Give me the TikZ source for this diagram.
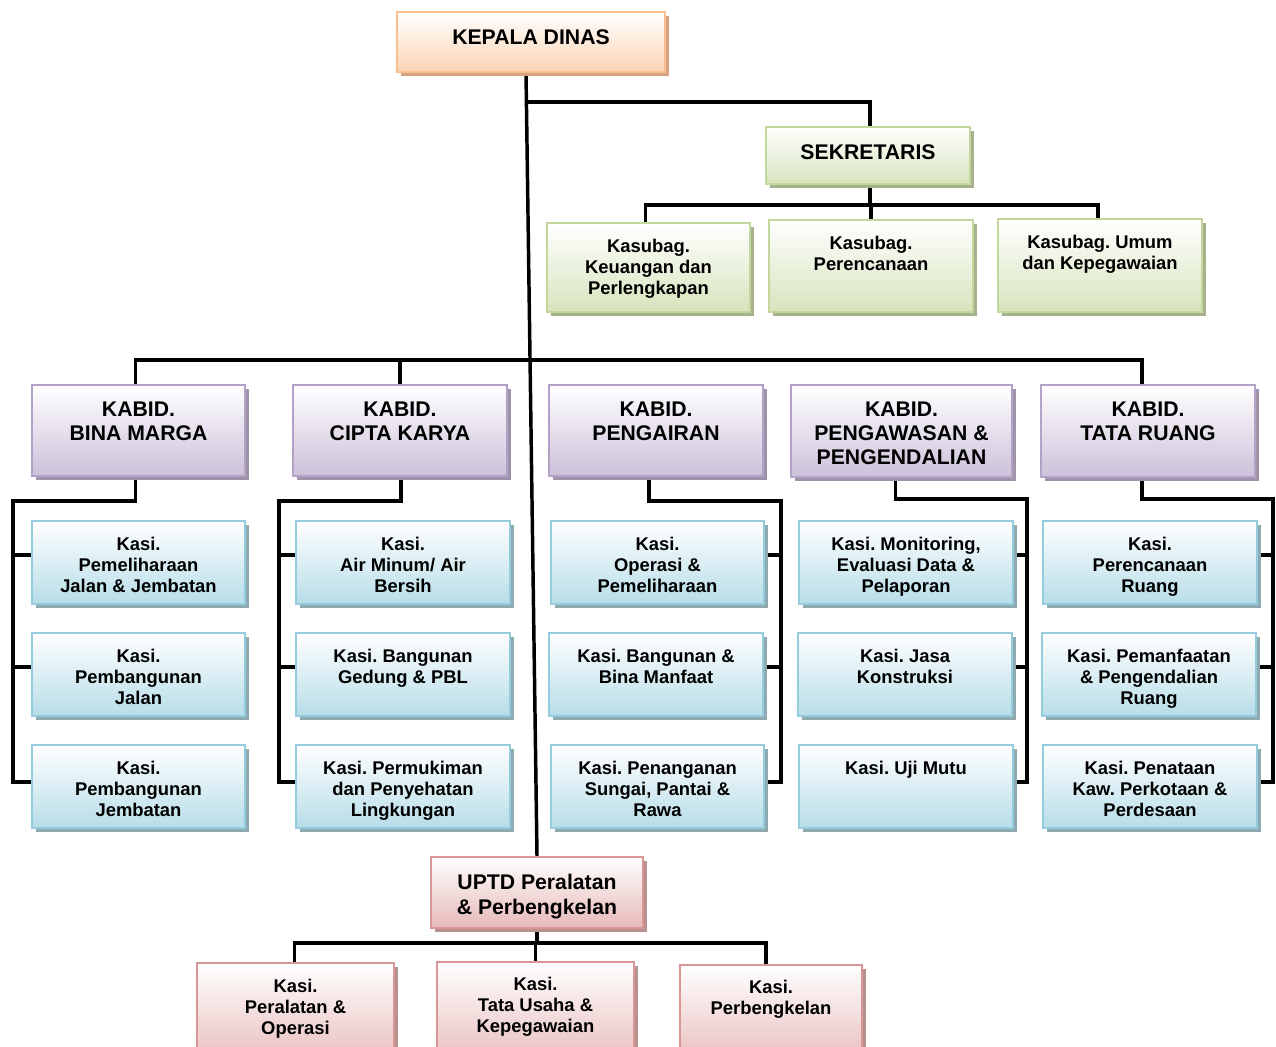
\documentclass[tikz,border=0pt]{standalone}
\usepackage{fontspec}
\setmainfont{Liberation Sans}
\frenchspacing
\usetikzlibrary{fit,calc,backgrounds}
\definecolor{peachborder}{HTML}{F9BF8F}
\definecolor{peachfill}{HTML}{FAD3B3}
\definecolor{peachshadow}{HTML}{D6A37E}
\definecolor{greenborder}{HTML}{C3D69B}
\definecolor{greenfill}{HTML}{D7E4BD}
\definecolor{greenshadow}{HTML}{A5B28C}
\definecolor{purpleborder}{HTML}{B3A2C7}
\definecolor{purplefill}{HTML}{CCC1DA}
\definecolor{purpleshadow}{HTML}{9E93A9}
\definecolor{blueborder}{HTML}{93CDDD}
\definecolor{bluefill}{HTML}{B7DDE8}
\definecolor{blueshadow}{HTML}{8FA9B1}
\definecolor{pinkborder}{HTML}{D99694}
\definecolor{pinkfill}{HTML}{E6B9B8}
\definecolor{pinkshadow}{HTML}{B69190}
\tikzset{
  conn/.style={line width=2.6pt, black, line cap=rect},
  bigtxt/.style={font=\fontsize{15.9}{18}\selectfont\bfseries, align=center, inner sep=0pt, anchor=north},
  uptdtxt/.style={font=\fontsize{15.9}{18.75}\selectfont\bfseries, align=center, inner sep=0pt, anchor=north},
  smalltxt/.style={font=\fontsize{13.8}{15.9}\selectfont\bfseries, align=center, inner sep=0pt, anchor=north},
}
% #1 name, #2 x1, #3 y1, #4 x2, #5 y2, #6 colour, #7 text style, #8 offset, #9 text
\newcommand\orgbox[9]{%
  \fill[#6shadow] (#2+4,#3+4) rectangle (#4+4,#5+4);
  \node[fit={(#2,#3)(#4,#5)}, inner sep=0pt, draw=#6border, line width=1.6pt,
        top color=white, bottom color=#6fill] (#1) {};
  \node[#7] (#1t) at ($(#1.north)+(0,#8)$) {#9};
}
\begin{document}
\begin{tikzpicture}[x=0.75pt,y=-0.75pt]
\useasboundingbox (0,0) rectangle (1276,1046);
\clip (0,0) rectangle (1276,1046);

% top
\orgbox{kd}{397}{12}{665}{72}{peach}{bigtxt}{18}{KEPALA DINAS}
\orgbox{sek}{766}{127}{970}{184}{green}{bigtxt}{18}{SEKRETARIS}
\orgbox{sb1}{547}{223}{750}{312}{green}{smalltxt}{17}{Kasubag.\\Keuangan dan\\Perlengkapan}
\orgbox{sb2}{769}{220}{973}{312}{green}{smalltxt}{17}{Kasubag.\\Perencanaan}
\orgbox{sb3}{998}{219}{1202}{312}{green}{smalltxt}{17}{Kasubag. Umum\\dan Kepegawaian}

% kabid
\orgbox{kb1}{32}{385}{245}{476}{purple}{bigtxt}{18}{KABID.\\BINA MARGA}
\orgbox{kb2}{293}{385}{507}{476}{purple}{bigtxt}{18}{KABID.\\CIPTA KARYA}
\orgbox{kb3}{549}{385}{763}{476}{purple}{bigtxt}{18}{KABID.\\PENGAIRAN}
\orgbox{kb4}{791}{385}{1012}{477}{purple}{bigtxt}{18}{KABID.\\PENGAWASAN \&\\PENGENDALIAN}
\orgbox{kb5}{1041}{385}{1255}{477}{purple}{bigtxt}{18}{KABID.\\TATA RUANG}

% kasi column 1
\orgbox{k11}{32}{521}{245}{604}{blue}{smalltxt}{17}{Kasi.\\Pemeliharaan\\Jalan \& Jembatan}
\orgbox{k12}{32}{633}{245}{716}{blue}{smalltxt}{17}{Kasi.\\Pembangunan\\Jalan}
\orgbox{k13}{32}{745}{245}{828}{blue}{smalltxt}{17}{Kasi.\\Pembangunan\\Jembatan}
% column 2
\orgbox{k21}{296}{521}{510}{604}{blue}{smalltxt}{17}{Kasi.\\Air Minum/ Air\\Bersih}
\orgbox{k22}{296}{633}{510}{716}{blue}{smalltxt}{17}{Kasi. Bangunan\\Gedung \& PBL}
\orgbox{k23}{296}{745}{510}{828}{blue}{smalltxt}{17}{Kasi. Permukiman\\dan Penyehatan\\Lingkungan}
% column 3
\orgbox{k31}{551}{521}{764}{604}{blue}{smalltxt}{17}{Kasi.\\Operasi \&\\Pemeliharaan}
\orgbox{k32}{549}{633}{763}{716}{blue}{smalltxt}{17}{Kasi. Bangunan \&\\Bina Manfaat}
\orgbox{k33}{551}{745}{764}{828}{blue}{smalltxt}{17}{Kasi. Penanganan\\Sungai, Pantai \&\\Rawa}
% column 4
\orgbox{k41}{799}{521}{1013}{604}{blue}{smalltxt}{17}{Kasi. Monitoring,\\Evaluasi Data \&\\Pelaporan}
\orgbox{k42}{798}{633}{1012}{716}{blue}{smalltxt}{17}{Kasi. Jasa\\Konstruksi}
\orgbox{k43}{799}{745}{1013}{828}{blue}{smalltxt}{17}{Kasi. Uji Mutu}
% column 5
\orgbox{k51}{1043}{521}{1257}{604}{blue}{smalltxt}{17}{Kasi.\\Perencanaan\\Ruang}
\orgbox{k52}{1042}{633}{1256}{716}{blue}{smalltxt}{17}{Kasi. Pemanfaatan\\\& Pengendalian\\Ruang}
\orgbox{k53}{1043}{745}{1257}{828}{blue}{smalltxt}{17}{Kasi. Penataan\\Kaw. Perkotaan \&\\Perdesaan}

% UPTD
\orgbox{uptd}{431}{857}{643}{928}{pink}{uptdtxt}{18}{UPTD Peralatan\\\& Perbengkelan}
\orgbox{b1}{197}{963}{394}{1070}{pink}{smalltxt}{17}{Kasi.\\Peralatan \&\\Operasi}
\orgbox{b2}{437}{962}{634}{1070}{pink}{smalltxt}{16}{Kasi.\\Tata Usaha \&\\Kepegawaian}
\orgbox{b3}{680}{965}{862}{1070}{pink}{smalltxt}{16}{Kasi.\\Perbengkelan}

% connector junctions
\coordinate (jsek) at (528,102);
\coordinate (sekx) at ($(sek.north)+(2,0)$);
\coordinate (bussek) at (870,205);
\coordinate (busk) at (530,360);
\coordinate (sp1) at (13,501);
\coordinate (sp2) at (279,501);
\coordinate (sp3) at (781,501);
\coordinate (sp4) at (1027,499);
\coordinate (sp5) at (1273,499);
\coordinate (ub) at (537,943);

\foreach \c/\s in {1/-1,2/-1,3/1,4/1,5/1}{
  \foreach \r/\d in {1/35,2/35,3/38}{
    \ifnum\s<0
      \coordinate (t\c\r) at ($(k\c\r.north west)+(0,\d)$);
    \else
      \coordinate (t\c\r) at ($(k\c\r.north east)+(0,\d)$);
    \fi
  }
}

\begin{pgfonlayer}{background}
\fill[white] (0,0) rectangle (1276,1046);
% main line
\draw[conn] ($(kd.south)+(-5,0)$) -- (uptd.north);
% sekretaris
\draw[conn] (jsek) -| (sekx);
\draw[conn] (sekx |- sek.south) -- (sekx |- bussek);
\draw[conn] ($(sb1.north)+(-3,0)$) |- (bussek) -| ($(sb3.north)+(-2,0)$);
\draw[conn] (sb2.north) -- (sb2.north |- bussek);
% kabid bus
\draw[conn] ($(kb1.north)+(-3,0)$) |- (busk) -| ($(kb5.north)+(-6,0)$);
\draw[conn] (kb2.north) -- (kb2.north |- busk);
\draw[conn] ($(kb3.north)+(-7,0)$) -- ($(kb3.north)+(-7,0)$ |- busk);
\draw[conn] ($(kb4.north)+(-6,0)$) -- ($(kb4.north)+(-6,0)$ |- busk);
% kabid to kasi
\draw[conn] ($(kb1.south)+(-3,0)$) |- (sp1) -- (t13 -| sp1);
\draw[conn] ($(kb2.south)+(1,0)$) |- (sp2) -- (t23 -| sp2);
\draw[conn] ($(kb3.south)+(-7,0)$) |- (sp3) -- (t33 -| sp3);
\draw[conn] ($(kb4.south)+(-6,0)$) |- (sp4) -- (t43 -| sp4);
\draw[conn] ($(kb5.south)+(-6,0)$) |- (sp5) -- (t53 -| sp5);
\foreach \c in {1,...,5}{
  \foreach \r in {1,2,3}{
    \draw[conn] (t\c\r) -- (t\c\r -| sp\c);
  }
}
% uptd
\draw[conn] (uptd.south) -- (ub);
\draw[conn] ($(b1.north)+(-1,0)$) |- (ub) -| ($(b3.north)+(-5,0)$);
\draw[conn] (b2.north) -- (b2.north |- ub);
\end{pgfonlayer}
\end{tikzpicture}
\end{document}
